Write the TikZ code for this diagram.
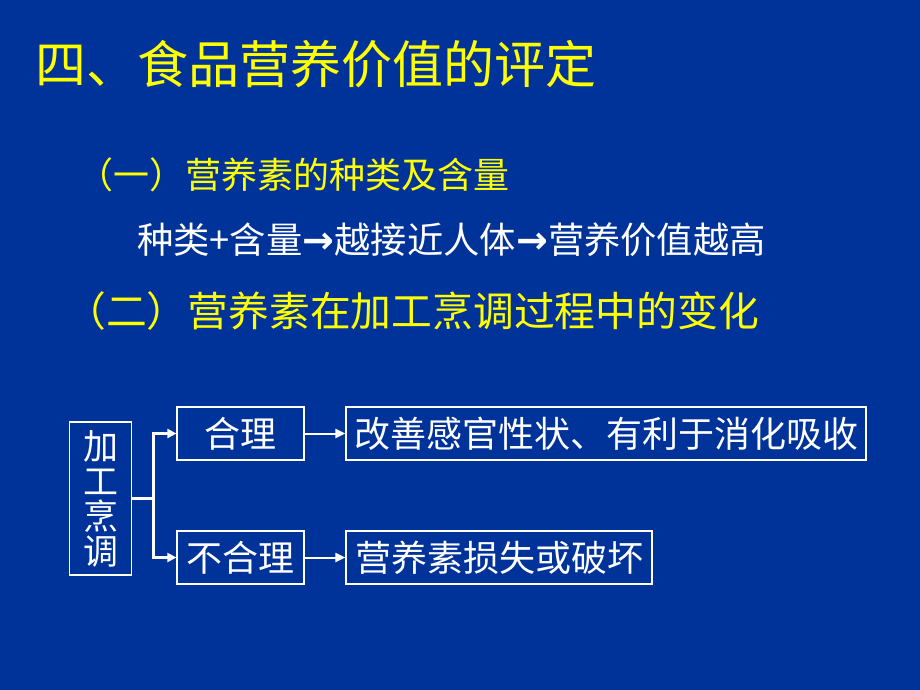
\documentclass[tikz,border=0pt]{standalone}
\usepackage{fontspec}
\newfontfamily\cjk{Noto Sans CJK SC}
\newfontfamily\dv{DejaVu Sans}
\usetikzlibrary{arrows.meta}
\definecolor{bgblue}{RGB}{0,51,153}
\definecolor{ttlyellow}{RGB}{255,255,0}
\newcommand{\rarr}{\makebox[32pt]{\dv\bfseries\fontsize{38}{38}\selectfont →}}
\tikzset{
  box/.style={draw=white, line width=1.2pt, text=white, inner sep=0pt, font=\cjk\fontsize{36}{38}\selectfont},
  conn/.style={draw=white, line width=3pt},
  tip/.style={-{Triangle[length=9pt,width=9pt]}},
  thin/.style={draw=white, line width=2pt, -{Triangle[length=10pt,width=9pt]}},
  txt/.style={anchor=west, inner sep=0pt}
}
\begin{document}
\begin{tikzpicture}[x=1pt,y=-1pt]
\fill[bgblue] (0,0) rectangle (920,690);
\useasboundingbox (0,0) rectangle (920,690);
\node[txt, text=ttlyellow, font=\cjk\fontsize{51}{53}\selectfont] (title) at (35,64) {四、食品营养价值的评定};
\node[txt, text=ttlyellow, font=\cjk\fontsize{36}{38}\selectfont] (s1) at (77,175) {（一）营养素的种类及含量};
\node[txt, text=white, font=\cjk\fontsize{36.3}{38}\selectfont] (s1b) at (137,240) {种类+含量\rarr 越接近人体\rarr 营养价值越高};
\node[txt, text=ttlyellow, font=\cjk\fontsize{40.8}{42}\selectfont] (s2) at (65,311) {（二）营养素在加工烹调过程中的变化};
\node[box, minimum width=62pt, minimum height=153pt, align=center, font=\cjk\fontsize{35}{35}\selectfont] (v) at (100.5,498.5) {加\\工\\烹\\调};
\node[box, minimum width=127pt, minimum height=53pt] (a) at (240.5,433.5) {合理};
\node[box, minimum width=127pt, minimum height=53pt] (b) at (240.5,557.5) {不合理};
\node[box, minimum width=520pt, minimum height=53pt] (c) at (606,433.5) {改善感官性状、有利于消化吸收};
\node[box, minimum width=306pt, minimum height=53pt] (d) at (499,557.5) {营养素损失或破坏};
\coordinate (j) at (153,498.5);
\draw[conn] (v.east) -- (j);
\draw[conn, tip] (j) |- (a.west);
\draw[conn, tip] (j) |- (b.west);
\draw[thin] (a.east) -- (c.west);
\draw[thin] (b.east) -- (d.west);
\end{tikzpicture}
\end{document}
